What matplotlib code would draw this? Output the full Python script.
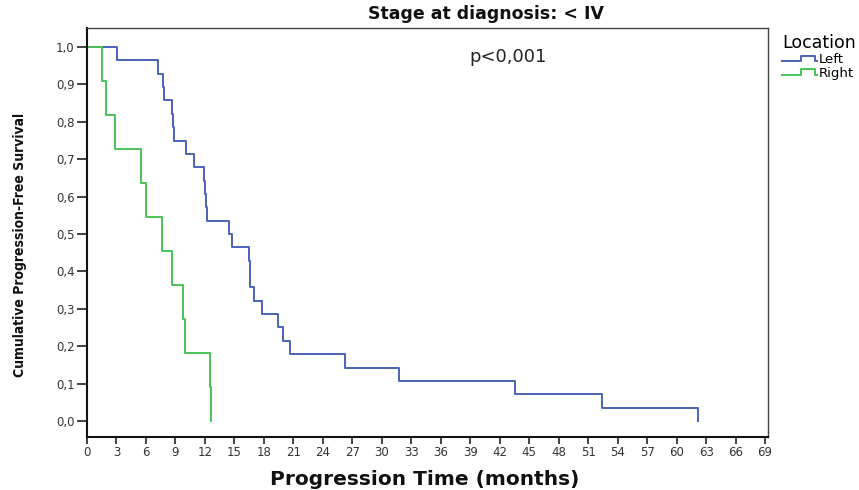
import matplotlib
matplotlib.use("Agg")
import matplotlib.pyplot as plt
from matplotlib.legend_handler import HandlerBase
from matplotlib.lines import Line2D
import numpy as np

# Progression event times (months) for each tumour location
left_times = [3.05, 7.25, 7.75, 7.8, 8.7, 8.8, 8.85, 10.07, 10.9,
              11.9, 12.0, 12.1, 12.24, 14.4, 14.8, 16.45, 16.55, 16.6,
              17.0, 17.8, 19.4, 19.9, 20.7, 26.3, 31.7, 43.6, 52.4, 62.2]
right_times = [1.56, 1.93, 2.85, 5.5, 5.97, 7.66, 8.68, 9.73, 10.0,
               12.5, 12.6]

series_names = ["Left", "Right"]
series_colors = ["#4a63b9", "#48c457"]
x_ticks = list(range(0, 70, 3))
y_ticks = [round(0.1 * i, 1) for i in range(11)]
y_tick_labels = [f"{v:.1f}".replace(".", ",") for v in y_ticks]


def km_curve(times):
    """Kaplan-Meier step coordinates for a group with no censoring."""
    t = np.sort(np.asarray(times, dtype=float))
    n = len(t)
    surv = 1.0 - np.arange(1, n + 1) / n
    xs = np.concatenate([[0.0], t])
    ys = np.concatenate([[1.0], surv])
    return xs, ys


class StepHandler(HandlerBase):
    """Legend glyph drawn as a small step."""

    def create_artists(self, legend, orig_handle, xdescent, ydescent,
                       width, height, fontsize, trans):
        x0 = -xdescent
        y0 = -ydescent + height * 0.2
        y1 = -ydescent + height * 0.8
        xa = x0 + width * 0.55
        xb = x0 + width * 0.95
        xs = [x0, xa, xa, xb, xb, x0 + width]
        ys = [y0, y0, y1, y1, y0, y0]
        line = Line2D(xs, ys, color=orig_handle.get_color(),
                      lw=orig_handle.get_linewidth(), transform=trans)
        return [line]


fig = plt.figure(figsize=(8.59, 4.90), dpi=100)
ax = fig.add_axes([87 / 859, 1 - 437 / 490, (768 - 87) / 859, (437 - 28) / 490])

handles = []
for times, name, color in zip([left_times, right_times], series_names, series_colors):
    xs, ys = km_curve(times)
    (h,) = ax.step(xs, ys, where="post", color=color, lw=1.4, label=name)
    handles.append(h)

ax.set_xlim(0, 69.3)
ax.set_ylim(-0.043, 1.051)
ax.set_xticks(x_ticks)
ax.set_xticklabels([str(v) for v in x_ticks])
ax.set_yticks(y_ticks)
ax.set_yticklabels(y_tick_labels)

ax.tick_params(axis="both", direction="out", width=1.2,
               colors="#222222", labelsize=8.5, labelcolor="#333333")
ax.tick_params(axis="x", length=5, pad=1.5)
ax.tick_params(axis="y", length=7, pad=2)

for side in ["left", "bottom"]:
    ax.spines[side].set_linewidth(1.5)
    ax.spines[side].set_color("#111111")
for side in ["right", "top"]:
    ax.spines[side].set_linewidth(1.0)
    ax.spines[side].set_color("#444444")

ax.set_xlabel("Progression Time (months)", fontsize=14.5, fontweight="bold",
              color="#111111")
ax.xaxis.set_label_coords((425 - 87) / 681, (437 - 479) / 409)
ax.xaxis.label.set_va("center")

ax.set_ylabel("Cumulative Progression-Free Survival", family="DejaVu Sans",
              fontstretch="condensed", fontsize=10, fontweight="bold",
              color="#111111")
ax.yaxis.set_label_coords((20 - 87) / 681, (437 - 245) / 409)
ax.yaxis.label.set_va("center")

fig.text(486 / 859, 1 - 14 / 490, "Stage at diagnosis: < IV", ha="center",
         va="center", fontsize=12.5, fontweight="bold", color="#111111")

ax.text(42.8, 0.973, "p<0,001", ha="center", va="center", fontsize=13,
        color="#222222")

leg = fig.legend(handles=handles, labels=series_names, title="Location",
                 loc="upper left", bbox_to_anchor=(773 / 859, 1 - 25 / 490),
                 frameon=False, fontsize=9.5, title_fontsize=12.5,
                 handler_map={Line2D: StepHandler()}, handlelength=2.6,
                 handletextpad=0.15, labelspacing=0.05, borderpad=0.2)
leg._legend_box.align = "left"

fig.savefig("out.png", dpi=100, facecolor="white")
